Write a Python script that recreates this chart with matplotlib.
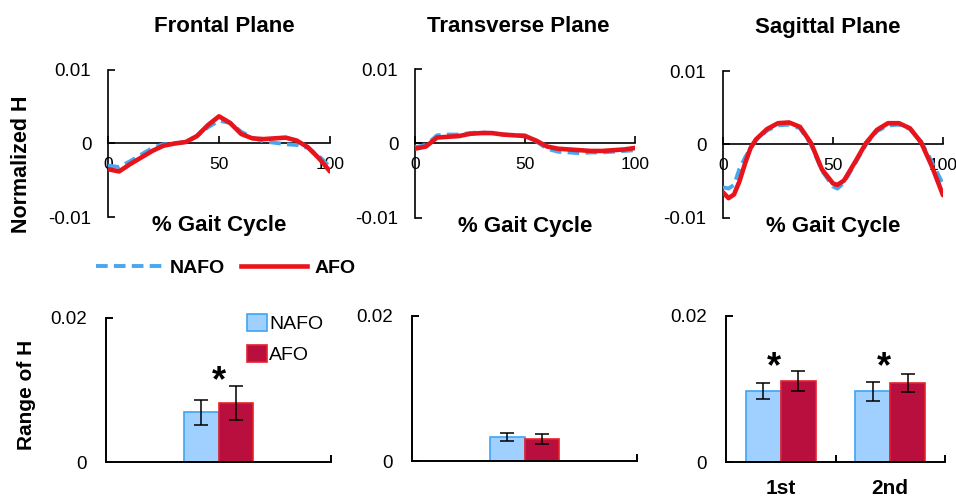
import matplotlib
matplotlib.use("Agg")
import matplotlib.pyplot as plt
from matplotlib.lines import Line2D

plt.rcParams['font.family'] = ['Liberation Sans', 'DejaVu Sans']

W, H = 956, 498

# ---- curve data (% gait cycle vs normalized H) ----
gait = [0, 5, 10, 15, 20, 25, 30, 35, 40, 45, 50, 55, 60, 65, 70, 75, 80, 85, 90, 95, 100]

frontal_afo = [-0.0035, -0.0038, -0.0028, -0.0019, -0.0010, -0.0003, 0.0000, 0.0002, 0.0010, 0.0025, 0.0037,
               0.0028, 0.0013, 0.0007, 0.0006, 0.0007, 0.0008, 0.0004, -0.0005, -0.0020, -0.0038]
frontal_nafo = [-0.0030, -0.0032, -0.0024, -0.0015, -0.0006, -0.0001, 0.0000, 0.0002, 0.0010, 0.0022, 0.0031,
                0.0028, 0.0016, 0.0008, 0.0003, 0.0001, -0.0001, -0.0002, -0.0006, -0.0017, -0.0032]

transverse_afo = [-0.0007, -0.0004, 0.0008, 0.0009, 0.0010, 0.0013, 0.0014, 0.0014, 0.0012, 0.0011, 0.0010,
                  0.0004, -0.0004, -0.0007, -0.0008, -0.0009, -0.0010, -0.0010, -0.0009, -0.0008, -0.0006]
transverse_nafo = [-0.0005, -0.0002, 0.0011, 0.0012, 0.0012, 0.0014, 0.0015, 0.0014, 0.0012, 0.0011, 0.0011,
                   0.0003, -0.0007, -0.0011, -0.0012, -0.0013, -0.0012, -0.0012, -0.0011, -0.0010, -0.0009]

gait_sag = [0, 2.5, 5, 7.5, 10, 12.5, 15, 20, 25, 30, 35, 40, 45, 50, 52, 55, 60, 65, 70, 75, 80, 85, 90, 95, 100]
sagittal_afo = [-0.0065, -0.0073, -0.0068, -0.0050, -0.0026, -0.0005, 0.0007, 0.0021, 0.0029, 0.0030, 0.0024,
                0.0002, -0.0034, -0.0053, -0.0055, -0.0049, -0.0024, 0.0002, 0.0020, 0.0029, 0.0029, 0.0022,
                0.0003, -0.0030, -0.0069]
sagittal_nafo = [-0.0058, -0.0060, -0.0055, -0.0033, -0.0018, -0.0005, 0.0006, 0.0019, 0.0026, 0.0027, 0.0022,
                 0.0000, -0.0036, -0.0057, -0.0060, -0.0052, -0.0026, 0.0000, 0.0018, 0.0026, 0.0027, 0.0021,
                 0.0004, -0.0024, -0.0054]

# ---- bar data (range of H) ----
frontal_bar_nafo, frontal_bar_nafo_err = [0.0069], [0.0017]
frontal_bar_afo, frontal_bar_afo_err = [0.0082], [0.0023]
transverse_bar_nafo, transverse_bar_nafo_err = [0.0033], [0.0006]
transverse_bar_afo, transverse_bar_afo_err = [0.0030], [0.0007]
sag_labels = ["1st", "2nd"]
sagittal_bar_nafo, sagittal_bar_nafo_err = [0.0097, 0.0097], [0.0011, 0.0013]
sagittal_bar_afo, sagittal_bar_afo_err = [0.0111, 0.0108], [0.0014, 0.0012]

titles = ["Frontal Plane", "Transverse Plane", "Sagittal Plane"]
title_x = [224, 518, 828]

C_RED = "#E8141C"
C_BLUE = "#45A8F0"
C_NAFO_FACE = "#9FD0FF"
C_NAFO_EDGE = "#3DA5F4"
C_AFO_FACE = "#B80F3E"
C_AFO_EDGE = "#E8202A"


def px_axes(fig, left, right, top, bottom):
    return fig.add_axes([left / W, 1 - bottom / H, (right - left) / W, (bottom - top) / H])


fig = plt.figure(figsize=(W / 100, H / 100), dpi=100)

top_boxes = [(108, 330, 70, 217), (415, 635, 69, 218), (723, 943, 71, 218)]
curves = [(gait, frontal_nafo, frontal_afo), (gait, transverse_nafo, transverse_afo),
          (gait_sag, sagittal_nafo, sagittal_afo)]

for box, (xs, nafo, afo), title, tx in zip(top_boxes, curves, titles, title_x):
    ax = px_axes(fig, *box)
    ax.plot(xs, nafo, color=C_BLUE, lw=2.8, dashes=(3, 1.6), zorder=3)
    ax.plot(xs, afo, color=C_RED, lw=3.3, solid_joinstyle='round', solid_capstyle='round', zorder=4)
    ax.set_xlim(0, 100)
    ax.set_ylim(-0.01, 0.01)
    for s in ['top', 'right']:
        ax.spines[s].set_visible(False)
    ax.spines['bottom'].set_position(('data', 0))
    for s in ['left', 'bottom']:
        ax.spines[s].set_linewidth(1.2)
    ax.set_xticks([0, 50, 100])
    ax.set_xticklabels(["0", "50", "100"])
    ax.set_yticks([-0.01, 0, 0.01])
    ax.set_yticklabels(["-0.01", "0", "0.01"])
    ax.tick_params(axis='x', direction='in', length=5, width=1.2, pad=10, labelsize=12.5)
    ax.tick_params(axis='y', direction='in', length=5, width=1.2, pad=12, labelsize=13.5)
    ax.text(0.5, -0.06, "% Gait Cycle", transform=ax.transAxes, ha='center', va='center',
            fontsize=16, fontweight='bold')
    fig.text(tx / W, 1 - 27 / H, title, ha='center', va='center', fontsize=16, fontweight='bold')

fig.text(22 / W, 1 - 164 / H, "Normalized H", rotation=90, ha='center', va='center',
         fontsize=15.5, fontweight='bold')
fig.text(27 / W, 1 - 395 / H, "Range of H", rotation=90, ha='center', va='center',
         fontsize=15, fontweight='bold')

# top legend
handles = [Line2D([], [], color=C_BLUE, lw=2.8, dashes=(3, 1.6)),
           Line2D([], [], color=C_RED, lw=3.3)]
fig.legend(handles, ["NAFO", "AFO"], loc='center', bbox_to_anchor=(226 / W, 1 - 268 / H), ncol=2,
           frameon=False, handlelength=3.4, handletextpad=0.4, columnspacing=0.8,
           prop={'weight': 'bold', 'size': 14})


def bar_axes(box, xlim):
    ax = px_axes(fig, *box)
    ax.set_ylim(0, 0.02)
    ax.set_xlim(*xlim)
    for s in ['top', 'right']:
        ax.spines[s].set_visible(False)
    for s in ['left', 'bottom']:
        ax.spines[s].set_linewidth(1.4)
    ax.set_yticks([0, 0.02])
    ax.set_yticklabels(["0", "0.02"])
    ax.tick_params(axis='y', direction='in', length=5, width=1.4, pad=14, labelsize=13.5)
    return ax


err_kw = dict(ecolor='black', elinewidth=1.1, capsize=5, capthick=1.1)

# frontal bars
bw = 0.155
ax = bar_axes((106, 331, 318, 462), (-0.5, 0.5))
x0 = [0]
ax.bar([v - bw / 2 for v in x0], frontal_bar_nafo, bw, yerr=frontal_bar_nafo_err, color=C_NAFO_FACE,
       edgecolor=C_NAFO_EDGE, lw=1.2, error_kw=err_kw, label="NAFO")
ax.bar([v + bw / 2 for v in x0], frontal_bar_afo, bw, yerr=frontal_bar_afo_err, color=C_AFO_FACE,
       edgecolor=C_AFO_EDGE, lw=1.2, error_kw=err_kw, label="AFO")
ax.set_xticks([0.5])
ax.set_xticklabels([""])
ax.tick_params(axis='x', direction='in', length=5, width=1.4)
ax.text(0, 0.0099, "*", ha='center', va='baseline', fontsize=26, fontweight='bold')
ax.legend(loc='upper left', bbox_to_anchor=(0.627, 1.03), frameon=False, handlelength=1.0,
          handleheight=1.0, handletextpad=0.15, labelspacing=0.6, borderpad=0, borderaxespad=0,
          prop={'size': 14})

# transverse bars
ax = bar_axes((412, 637, 316, 461), (-0.5, 0.5))
ax.bar([v - bw / 2 for v in x0], transverse_bar_nafo, bw, yerr=transverse_bar_nafo_err, color=C_NAFO_FACE,
       edgecolor=C_NAFO_EDGE, lw=1.2, error_kw=err_kw)
ax.bar([v + bw / 2 for v in x0], transverse_bar_afo, bw, yerr=transverse_bar_afo_err, color=C_AFO_FACE,
       edgecolor=C_AFO_EDGE, lw=1.2, error_kw=err_kw)
ax.set_xticks([0.5])
ax.set_xticklabels([""])
ax.tick_params(axis='x', direction='in', length=5, width=1.4)

# sagittal bars
bw2 = 0.32
ax = bar_axes((726, 945, 316, 462), (-0.5, 1.5))
xs = list(range(len(sag_labels)))
ax.bar([v - bw2 / 2 for v in xs], sagittal_bar_nafo, bw2, yerr=sagittal_bar_nafo_err, color=C_NAFO_FACE,
       edgecolor=C_NAFO_EDGE, lw=1.2, error_kw=err_kw)
ax.bar([v + bw2 / 2 for v in xs], sagittal_bar_afo, bw2, yerr=sagittal_bar_afo_err, color=C_AFO_FACE,
       edgecolor=C_AFO_EDGE, lw=1.2, error_kw=err_kw)
ax.set_xticks(xs)
ax.set_xticklabels(sag_labels, fontsize=15, fontweight='bold')
ax.tick_params(axis='x', which='major', length=0, pad=12)
ax.set_xticks([0.5, 1.5], minor=True)
ax.tick_params(axis='x', which='minor', direction='in', length=5, width=1.4)
for v in xs:
    ax.text(v - 0.06, 0.01156, "*", ha='center', va='baseline', fontsize=26, fontweight='bold')

fig.savefig("out.png", dpi=100)
